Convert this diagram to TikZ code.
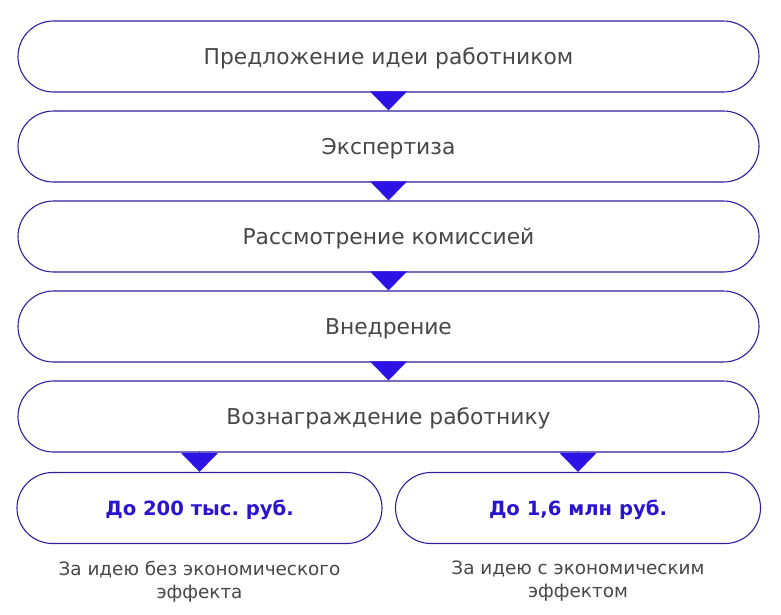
\documentclass[tikz,border=0pt]{standalone}
\usepackage{fontspec}
\setmainfont{DejaVu Sans}
\usepackage{xcolor}
\usetikzlibrary{arrows.meta,positioning}
\definecolor{edgeblue}{HTML}{2E1F9E}
\definecolor{tipblue}{HTML}{2D12E6}
\definecolor{boldblue}{HTML}{2A14D0}
\definecolor{txtgray}{HTML}{474747}
\frenchspacing

\begin{document}
\begin{tikzpicture}[x=1pt,y=1pt]

\tikzset{
	step box/.style={
		draw=edgeblue,
		rectangle,
		rounded corners=35.5pt,
		line width=1.1pt,
		minimum width=741pt,
		minimum height=71pt,
		text centered,
		text depth=0pt,
		text=txtgray,
		font=\fontsize{21.8}{26}\selectfont},
	sum box/.style={
		step box,
		minimum width=365pt,
		text=boldblue,
		font=\fontsize{19.6}{23}\selectfont\bfseries},
	note/.style={
		align=center,
		text=txtgray,
		inner sep=0pt,
		font=\fontsize{18.4}{22.5}\selectfont},
	tip/.style={
		draw=tipblue,
		line width=0pt,
		-{Triangle[width=37pt,length=19pt]}}
}

\useasboundingbox (0,0) rectangle (781,-614);

\node[step box] (s1) at (388.5,-56.5) {Предложение идеи работником};

\node[step box,below=90pt of s1.center,anchor=center] (s2) {Экспертиза};

\node[step box,below=90pt of s2.center,anchor=center] (s3) {Рассмотрение комиссией};

\node[step box,below=90pt of s3.center,anchor=center] (s4) {Внедрение};

\node[step box,below=90pt of s4.center,anchor=center] (s5) {Вознаграждение работнику};

\node[sum box,below=91.5pt of s5.center,anchor=center,xshift=-189pt] (low) {До 200 тыс. руб.};

\node[sum box,below=91.5pt of s5.center,anchor=center,xshift=189.5pt] (high) {До 1,6 млн руб.};

\node[note,below=17pt of low] (lownote) {За идею без экономического\\эффекта};

\node[note,below=17pt of high] (highnote) {За идею с экономическим\\эффектом};

\draw[tip] (s1.south) -- (s2.north);
\draw[tip] (s2.south) -- (s3.north);
\draw[tip] (s3.south) -- (s4.north);
\draw[tip] (s4.south) -- (s5.north);
\draw[tip] (low.north |- s5.south) -- (low.north);
\draw[tip] (high.north |- s5.south) -- (high.north);
\end{tikzpicture}
\end{document}
